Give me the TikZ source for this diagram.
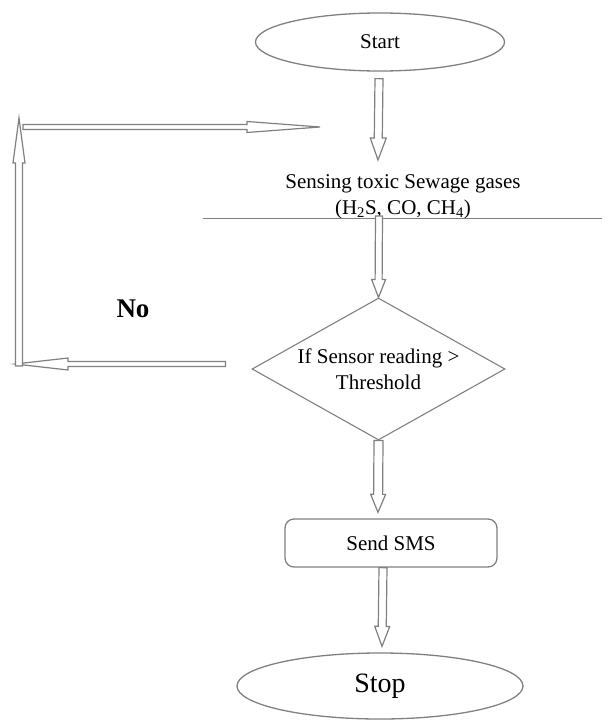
\documentclass[tikz,border=0pt]{standalone}
\usepackage{fontspec}
\setmainfont{Liberation Serif}
\usetikzlibrary{calc,positioning,shapes.geometric}
\newcommand{\blockarrow}[5]{\coordinate (ba-s) at #1;
  \coordinate (ba-e) at #2;
  \coordinate (ba-h) at ($(ba-e)!#3!(ba-s)$);
  \draw[hollow] ($(ba-s)!#5!90:(ba-e)$) -- ($(ba-h)!#5!-90:(ba-s)$)
    -- ($(ba-h)!#4!-90:(ba-s)$) -- (ba-e) -- ($(ba-h)!#4!90:(ba-s)$)
    -- ($(ba-h)!#5!90:(ba-s)$) -- ($(ba-s)!#5!-90:(ba-e)$) -- cycle;}

\begin{document}
\begin{tikzpicture}[x=1pt,y=-1pt,
  every node/.style={font=\fontsize{21}{26}\selectfont},
  hollow/.style={draw=black!50,line width=1.2pt,fill=white,line join=miter},
  terminal/.style={ellipse,draw=black!50,line width=1.3pt,inner sep=0pt},
  decision/.style={diamond,draw=black!50,line width=1.1pt,inner sep=0pt,aspect=1.78,align=center},
  process/.style={rectangle,rounded corners=9pt,draw=black!50,line width=1.3pt}]
\useasboundingbox (0,0) rectangle (608,720);
\node[terminal,minimum width=249,minimum height=58] (start) at (380,42) {Start};
\node[align=center] (sense) at (403,197) {Sensing toxic Sewage gases\\(H\textsubscript{2}S, CO, CH\textsubscript{4})};
\draw[black!50,line width=1pt] (203,218) -- (602,218);
\node[decision,minimum width=253,minimum height=142] (check) at (378.5,369) {If Sensor reading >\\Threshold};
\node[process,minimum width=212,minimum height=48] (sms) at (391,543) {Send SMS};
\node[terminal,minimum width=286,minimum height=66,font=\fontsize{28}{32}\selectfont] (stop) at (380,686) {Stop};
\node[font=\fontsize{27}{30}\selectfont\bfseries] (no) at (133,309) {No};
% loop corners
\coordinate (sensein) at (378,160);
\coordinate (senseout) at (379,216);
\coordinate (loopin) at ($(check.west)+(-26,-5)$);
\coordinate (loopbl) at (15,364);
\coordinate (loopup) at (19,366);
\coordinate (looptl) at (19,118);
\coordinate (loopback) at (23,127);
\coordinate (loopend) at (320,127);
% flow arrows
\blockarrow{($(start.south)+(-1,7)$)}{(sensein)}{22pt}{8pt}{4pt}
\blockarrow{(senseout)}{(check.north)}{18pt}{7pt}{3.5pt}
\blockarrow{(check.south)}{($(sms.north)+(-13,-6)$)}{18pt}{7.5pt}{4.5pt}
\blockarrow{($(sms.south)+(-8,0)$)}{($(stop.north)+(2,-6)$)}{20pt}{7.5pt}{4pt}
\blockarrow{(loopin)}{(loopbl)}{53pt}{6pt}{2.5pt}
\blockarrow{(loopup)}{(looptl)}{45pt}{6pt}{3.5pt}
\blockarrow{(loopback)}{(loopend)}{73pt}{5.5pt}{2.5pt}
\end{tikzpicture}
\end{document}
